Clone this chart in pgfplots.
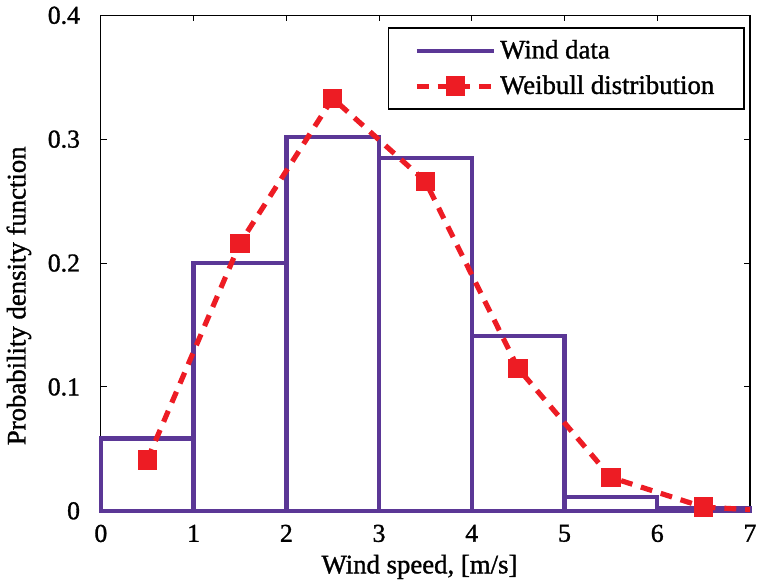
\documentclass[border=0pt]{standalone}
\usepackage{pgfplots}
\pgfplotsset{compat=1.18}
\usepackage{fontspec}
\setmainfont{Liberation Serif}[BoldFont=Liberation Serif, BoldFeatures={FakeBold=1.2}]
\definecolor{wpurple}{RGB}{91,55,150}
\definecolor{wred}{RGB}{237,28,36}
\begin{document}
\begin{tikzpicture}
\begin{axis}[
  scale only axis,
  width=327.5pt, height=250pt,
  xmin=0, xmax=7, ymin=0, ymax=0.4,
  xtick={0,1,2,3,4,5,6,7},
  ytick={0,0.1,0.2,0.3,0.4},
  yticklabels={0,0.1,0.2,0.3,0.4},
  tick align=inside,
  major tick length=3pt,
  tick style={black, line width=0.5pt},
  axis line style={black, line width=0.6pt},
  /pgf/number format/assume math mode=true,
  ticklabel style={font=\fontsize{13}{15}\selectfont\bfseries},
  yticklabel style={xshift=-7pt},
  xticklabel style={yshift=-3.5pt},
  xlabel={Wind speed, [m/s]},
  ylabel={Probability density function},
  label style={font=\fontsize{13.5}{16}\selectfont\bfseries},
  xlabel style={xshift=-3pt, yshift=0.5pt},
  ylabel style={xshift=-16.5pt, yshift=1.5pt},
  clip=false,
  legend style={at={(0.992,0.976)}, anchor=north east, draw=black, line width=0.8pt,
    font=\fontsize{13.5}{16}\selectfont\bfseries, inner xsep=13pt, inner ysep=4pt,
    row sep=3pt, cells={anchor=west}},
  legend image code/.code={\draw[#1, mark repeat=2, mark phase=2] plot coordinates {(0cm,0cm) (0.68cm,0cm) (1.36cm,0cm)};},
]
\addplot[ybar interval, draw=wpurple, fill=none, line width=2.2pt, forget plot] coordinates {
  (0,0.0585) (1,0.200) (2,0.302) (3,0.285) (4,0.141) (5,0.0114) (6,0.002) (7,0)
};
\addlegendimage{wpurple, line width=2.2pt}
\addlegendentry{Wind data}
\addplot[wred, line width=2.6pt, dash pattern=on 6pt off 4.5pt, mark=square*,
  mark size=3.6pt, mark options={solid, fill=wred, draw=none}] coordinates {
  (0.5,0.041) (1.5,0.216) (2.5,0.333) (3.5,0.266) (4.5,0.115) (5.5,0.027) (6.5,0.003)
};
\addplot[wred, line width=2.6pt, dash pattern=on 6pt off 4.5pt, forget plot] coordinates {
  (6.5,0.003) (7,0.001)
};
\addlegendentry{Weibull distribution}
\end{axis}
\end{tikzpicture}
\end{document}
